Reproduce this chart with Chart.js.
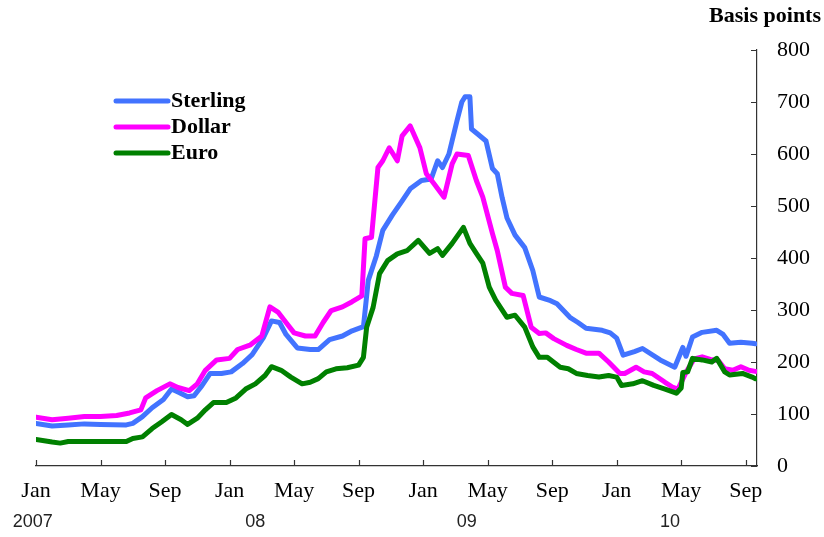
<!DOCTYPE html>
<html>
<head>
<meta charset="utf-8">
<script src="https://cdn.jsdelivr.net/npm/chart.js@4"></script>
<style>
html,body{margin:0;padding:0;background:#fff;}
canvas{display:block;}
</style>
</head>
<body>
<canvas id="c" width="824" height="537"></canvas>
<script>
// x values are months since Jan 2007
const monthTicks = [0,4,8,12,16,20,24,28,32,36,40,44];
const monthNames = ['Jan','May','Sep'];
const yearLabels = ['2007','08','09','10'];
const yearLabelMonths = [-0.2,13.6,26.7,39.3];
const seriesNames = ['Sterling','Dollar','Euro'];

const sterlingMonths = [0,1,2,3,4,5.6,6,6.6,7.2,7.9,8.4,8.9,9.4,9.8,10.3,10.8,11.5,12.1,12.8,13.4,14.1,14.6,15.1,15.5,16.2,17,17.5,18.2,19,19.6,20.3,20.6,21.1,21.5,22.1,22.7,23.2,23.9,24.5,24.9,25.2,25.6,26.1,26.4,26.6,26.9,27.0,27.4,27.9,28.3,28.6,28.9,29.2,29.7,30.3,30.8,31.2,31.9,32.3,33.1,33.6,34.1,35.1,35.6,36.0,36.4,37.1,37.6,38.7,39.6,40.1,40.3,40.7,41.3,42.2,42.6,43.0,43.7,44.4,44.6];
const sterlingValues = [82,77,79,81,80,79,82,95,112,128,148,141,133,135,155,178,178,181,197,214,247,279,276,253,227,224,224,243,250,260,268,357,404,453,483,510,533,549,552,587,574,600,664,700,710,710,648,638,625,572,562,516,477,444,420,376,325,318,312,286,276,265,261,256,246,213,220,226,204,190,228,211,248,257,261,253,236,238,236,235];

const dollarMonths = [0,1,2,3,4,5,5.8,6.5,6.8,7.5,8.3,8.8,9.5,10,10.5,11.2,12,12.5,13.3,14,14.5,15,15.5,16,16.7,17.3,17.8,18.3,19,19.6,20.2,20.4,20.8,21.2,21.5,21.9,22.4,22.7,23.2,23.8,24.2,24.7,25.3,25.8,26.1,26.8,27.3,27.7,28.3,28.6,29.1,29.5,30.2,30.7,31.2,31.6,32.1,32.9,33.5,34.1,34.9,35.5,36.2,36.5,37.2,37.7,38.2,39,39.5,39.8,40.3,40.8,41.3,41.8,42.3,42.7,43.2,43.7,44.2,44.6];
const dollarValues = [94,89,92,95,95,97,102,108,131,145,158,151,145,158,184,204,207,224,233,250,306,296,276,256,250,250,276,299,306,316,327,437,440,574,587,612,587,635,654,612,562,542,517,581,600,597,549,517,447,414,344,332,328,267,255,256,245,232,224,217,217,200,178,178,190,181,178,161,151,148,180,206,210,205,203,187,184,191,184,182];

const euroMonths = [0,1,1.5,2,4,5.6,6,6.6,7.2,7.8,8.4,9,9.4,10,10.5,11,11.8,12.4,13,13.6,14.2,14.6,15.2,15.8,16.5,17,17.5,18,18.6,19.3,20,20.3,20.5,20.9,21.3,21.8,22.4,23,23.7,24.4,24.9,25.2,25.8,26.5,26.9,27.3,27.7,28.1,28.5,29.2,29.7,30.3,30.8,31.2,31.7,32.5,33,33.5,34.2,34.9,35.5,36,36.3,37,37.6,38.3,39,39.7,40.0,40.1,40.4,40.7,41.3,41.9,42.2,42.7,43.0,43.8,44.4,44.6];
const euroValues = [51,46,44,47,47,47,53,56,72,85,99,89,80,92,108,122,122,131,148,158,174,191,184,171,158,161,168,181,187,189,194,209,267,305,370,395,408,414,434,409,418,405,428,459,428,409,390,344,319,286,290,267,229,209,209,190,187,178,174,171,174,171,155,158,164,155,148,140,150,180,181,207,204,200,207,181,175,178,171,168];

const yTickValues = [0,100,200,300,400,500,600,700,800];

function pts(ms, vs){ return ms.map((m,i)=>({x:m,y:vs[i]})); }

const serif = "'Liberation Serif','Times New Roman',serif";

const overlay = {
  id:'overlay',
  afterDraw(chart){
    const ctx = chart.ctx;
    const xs = chart.scales.x, ys = chart.scales.y;
    const ca = chart.chartArea;
    ctx.save();
    ctx.strokeStyle = '#333';
    ctx.lineWidth = 1.2;
    ctx.beginPath();
    monthTicks.forEach(m=>{
      const px = Math.round(xs.getPixelForValue(m))+0.5;
      ctx.moveTo(px, ca.bottom); ctx.lineTo(px, ca.bottom-6);
    });
    yTickValues.forEach(v=>{
      const py = Math.round(ys.getPixelForValue(v))+0.5;
      ctx.moveTo(ca.right, py); ctx.lineTo(ca.right-6, py);
    });
    ctx.stroke();
    ctx.fillStyle = '#222';
    ctx.font = "18px 'Liberation Sans', Arial, sans-serif";
    ctx.textAlign = 'center';
    ctx.textBaseline = 'middle';
    yearLabels.forEach((t,i)=>{
      ctx.fillText(t, xs.getPixelForValue(yearLabelMonths[i]), 522);
    });
    ctx.fillStyle = '#000';
    ctx.font = "bold 22px " + serif;
    ctx.textAlign = 'right';
    ctx.fillText('Basis points', 821, 16);
    const colors = chart.data.datasets.map(d=>d.borderColor);
    ctx.font = "bold 22px " + serif;
    ctx.textAlign = 'left';
    seriesNames.forEach((n,i)=>{
      const y = 101 + i*26;
      ctx.strokeStyle = colors[i];
      ctx.lineWidth = 5;
      ctx.lineCap = 'round';
      ctx.beginPath(); ctx.moveTo(116,y); ctx.lineTo(168,y); ctx.stroke();
      ctx.fillStyle = '#000';
      ctx.fillText(n, 171, y);
    });
    ctx.restore();
  }
};

new Chart(document.getElementById('c'), {
  type:'line',
  data:{
    datasets:[
      {label:seriesNames[0], data:pts(sterlingMonths,sterlingValues), borderColor:'#4273ff', order:3},
      {label:seriesNames[1], data:pts(dollarMonths,dollarValues), borderColor:'#ff00ff', order:2},
      {label:seriesNames[2], data:pts(euroMonths,euroValues), borderColor:'#008000', order:1}
    ]
  },
  options:{
    responsive:false,
    animation:false,
    devicePixelRatio:1,
    layout:{padding:{left:36,top:50,right:0,bottom:0}},
    elements:{
      line:{borderWidth:5,tension:0,borderJoinStyle:'round',borderCapStyle:'round',fill:false},
      point:{radius:0,hoverRadius:0}
    },
    plugins:{legend:{display:false},tooltip:{enabled:false}},
    scales:{
      x:{
        type:'linear', min:0, max:44.7,
        grid:{display:false,drawTicks:false},
        border:{display:true,color:'#333',width:1.2},
        afterBuildTicks:(s)=>{ s.ticks = monthTicks.map(v=>({value:v})); },
        afterFit:(s)=>{ s.height = 71; },
        ticks:{
          autoSkip:false, maxRotation:0, padding:12, color:'#000',
          font:{family:serif,size:22},
          callback:(v)=>monthNames[Math.round(v/4)%3]
        }
      },
      y:{
        position:'right', min:0, max:800,
        grid:{display:false,drawTicks:false},
        border:{display:true,color:'#333',width:1.2},
        afterBuildTicks:(s)=>{ s.ticks = yTickValues.map(v=>({value:v})); },
        afterFit:(s)=>{ s.width = 67; },
        ticks:{
          padding:20, color:'#000',
          font:{family:serif,size:22},
          callback:(v)=>String(v)
        }
      }
    }
  },
  plugins:[overlay]
});
</script>
</body>
</html>
